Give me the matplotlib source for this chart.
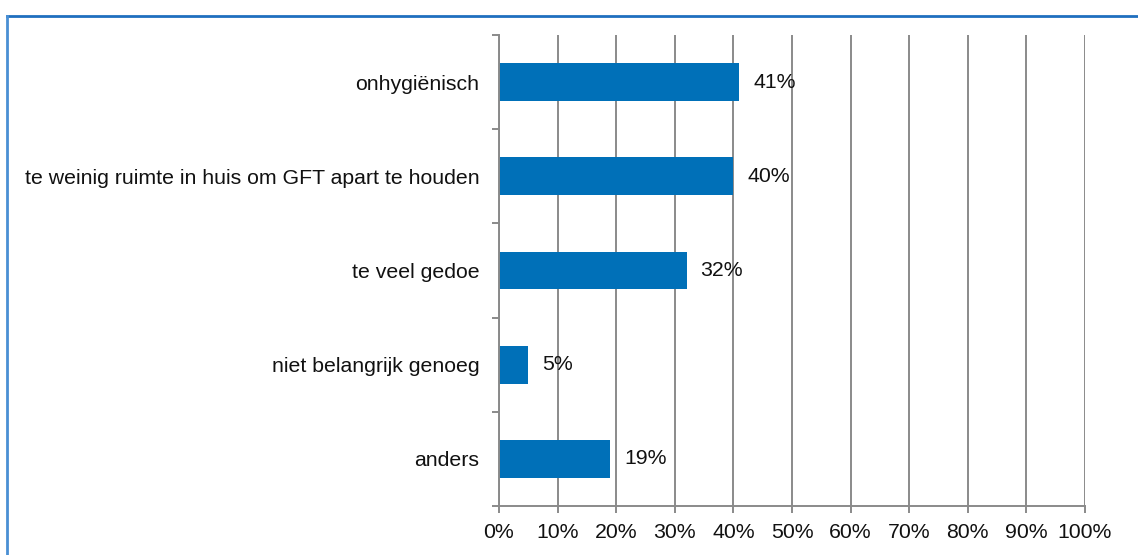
import matplotlib
matplotlib.use("Agg")
import matplotlib.pyplot as plt
from matplotlib.lines import Line2D

categories = ["onhygiënisch",
              "te weinig ruimte in huis om GFT apart te houden",
              "te veel gedoe",
              "niet belangrijk genoeg",
              "anders"]
values = [41, 40, 32, 5, 19]
xticks = [0, 10, 20, 30, 40, 50, 60, 70, 80, 90, 100]
xtick_labels = [f"{v}%" for v in xticks]

plt.rcParams['font.family'] = ['Liberation Sans', 'DejaVu Sans']

fig = plt.figure(figsize=(11.38, 5.55), dpi=100)
ax = fig.add_axes([499/1138, 1-506/555, (1085-499)/1138, (506-35)/555])

grey = "#8a8a8a"
bar_color = "#0070B8"
fs = 15.3
n = len(categories)
ypos = [n - 0.5 - i for i in range(n)]

ax.set_xlim(0, 100)
ax.set_ylim(0, n)
ax.set_axisbelow(True)
ax.xaxis.grid(True, color=grey, linewidth=1.4)
ax.barh(ypos, values, height=0.4, color=bar_color, zorder=2)

for y, v in zip(ypos, values):
    ax.annotate(f"{v}%", xy=(v, y), xytext=(10, 0), textcoords="offset points",
                ha="left", va="center", fontsize=fs, color="#111111", zorder=3)

ax.set_xticks(xticks)
ax.set_xticklabels(xtick_labels, fontsize=fs, color="#111111")
ax.set_yticks(range(n + 1))
ax.set_yticklabels([])
ax.set_yticks(ypos, minor=True)
ax.set_yticklabels(categories, minor=True, fontsize=fs, color="#111111")
ax.tick_params(axis="y", which="minor", length=0, pad=14)
ax.tick_params(axis="y", which="major", length=5, color=grey, width=1.4, direction="out")
ax.tick_params(axis="x", length=5, color=grey, width=1.4, direction="out", pad=7)

for s in ["top", "right"]:
    ax.spines[s].set_visible(False)
for s in ["left", "bottom"]:
    ax.spines[s].set_color(grey)
    ax.spines[s].set_linewidth(1.4)

# outer frame (top and left edges visible)
fig.add_artist(Line2D([7/1138, 1.0], [1-16/555, 1-16/555], transform=fig.transFigure,
                      color="#1f6fbf", linewidth=2))
fig.add_artist(Line2D([7/1138, 7/1138], [1-16/555, 0], transform=fig.transFigure,
                      color="#4a8fd4", linewidth=2))

fig.savefig("out.png", dpi=100)
